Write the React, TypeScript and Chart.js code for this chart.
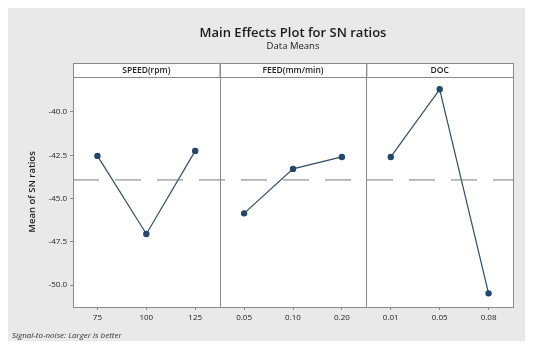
import React, { useEffect, useRef } from "react";
import { Chart, registerables } from "chart.js";

Chart.register(...registerables);

const FACTORS = ["SPEED(rpm)", "FEED(mm/min)", "DOC"];
const SPEED_LABELS = ["75", "100", "125"];
const SPEED_SN = [-42.54, -47.05, -42.25];
const FEED_LABELS = ["0.05", "0.10", "0.20"];
const FEED_SN = [-45.86, -43.29, -42.6];
const DOC_LABELS = ["0.01", "0.05", "0.08"];
const DOC_SN = [-42.6, -38.69, -50.48];
const Y_TICKS = [-50, -47.5, -45, -42.5, -40];
const Y_MIN = -51.27;
const Y_MAX = -37.98;

const TITLE = "Main Effects Plot for SN ratios";
const SUBTITLE = "Data Means";
const Y_TITLE = "Mean of SN ratios";
const FOOTNOTE = "Signal-to-noise: Larger is better";

const FONT = "'Open Sans', 'DejaVu Sans', sans-serif";
const LINE_COLOR = "#2f4d69";
const POINT_COLOR = "#23486b";
const FRAME = "#8a8a8a";

const ALL_LABELS = [...SPEED_LABELS, ...FEED_LABELS, ...DOC_LABELS];
const SERIES = [SPEED_SN, FEED_SN, DOC_SN];
const ALL_VALUES = [...SPEED_SN, ...FEED_SN, ...DOC_SN];
const MEAN = ALL_VALUES.reduce((a, b) => a + b, 0) / ALL_VALUES.length;

const framePlugin = {
  id: "framePlugin",
  beforeDraw(chart: any) {
    const { ctx, chartArea } = chart;
    const xs = chart.scales.x;
    ctx.save();
    ctx.fillStyle = "#ffffff";
    ctx.fillRect(chartArea.left, chartArea.top, chartArea.right - chartArea.left, chartArea.bottom - chartArea.top);
    const mid = (chartArea.left + chartArea.right) / 2;
    ctx.fillStyle = "#1a1a1a";
    ctx.textAlign = "center";
    ctx.textBaseline = "middle";
    ctx.font = `600 13px ${FONT}`;
    ctx.fillText(TITLE, mid, 25);
    ctx.font = `9.5px ${FONT}`;
    ctx.fillText(SUBTITLE, mid, 38);
    const stripTop = chartArea.top - 14;
    for (let i = 0; i < 3; i++) {
      const l = xs.getPixelForValue(i * 3);
      const r = xs.getPixelForValue(i * 3 + 3);
      ctx.fillStyle = "#ffffff";
      ctx.fillRect(l, stripTop, r - l, 14);
      ctx.strokeStyle = FRAME;
      ctx.lineWidth = 1;
      ctx.strokeRect(l + 0.5, stripTop + 0.5, r - l, 14);
      ctx.fillStyle = "#222";
      ctx.font = `600 8.5px ${FONT}`;
      ctx.fillText(FACTORS[i], (l + r) / 2, stripTop + 7.5);
    }
    ctx.save();
    ctx.translate(24, (chartArea.top + chartArea.bottom) / 2);
    ctx.rotate(-Math.PI / 2);
    ctx.font = `600 9.5px ${FONT}`;
    ctx.fillStyle = "#222";
    ctx.fillText(Y_TITLE, 0, 0);
    ctx.restore();
    ctx.textAlign = "left";
    ctx.font = `italic 8px ${FONT}`;
    ctx.fillStyle = "#333";
    ctx.fillText(FOOTNOTE, 4, 328);
    ctx.restore();
  },
  afterDraw(chart: any) {
    const { ctx, chartArea } = chart;
    const xs = chart.scales.x;
    ctx.save();
    ctx.strokeStyle = FRAME;
    ctx.lineWidth = 1;
    ctx.strokeRect(chartArea.left + 0.5, chartArea.top + 0.5, chartArea.right - chartArea.left, chartArea.bottom - chartArea.top);
    for (const v of [3, 6]) {
      const x = Math.round(xs.getPixelForValue(v)) + 0.5;
      ctx.beginPath();
      ctx.moveTo(x, chartArea.top - 14);
      ctx.lineTo(x, chartArea.bottom);
      ctx.stroke();
    }
    ctx.restore();
  },
};

export default function App() {
  const ref = useRef<HTMLCanvasElement>(null);
  useEffect(() => {
    if (!ref.current) return;
    const datasets: any[] = [
      {
        data: [
          { x: 0, y: MEAN },
          { x: 9, y: MEAN },
        ],
        borderColor: "#7a7a7a",
        borderWidth: 1,
        borderDash: [26, 16],
        pointRadius: 0,
        fill: false,
      },
    ];
    SERIES.forEach((s, i) => {
      datasets.push({
        data: s.map((v, j) => ({ x: i * 3 + j + 0.5, y: v })),
        borderColor: LINE_COLOR,
        borderWidth: 1.2,
        pointRadius: 2.6,
        pointBackgroundColor: POINT_COLOR,
        pointBorderColor: POINT_COLOR,
        pointStyle: "circle",
        fill: false,
      });
    });
    const chart = new Chart(ref.current, {
      type: "line",
      data: { datasets },
      plugins: [framePlugin],
      options: {
        animation: false,
        responsive: false,
        layout: { padding: { left: 0, top: 69, right: 12, bottom: 0 } },
        plugins: { legend: { display: false }, tooltip: { enabled: false } },
        scales: {
          x: {
            type: "linear",
            min: 0,
            max: 9,
            afterBuildTicks: (scale: any) => {
              scale.ticks = ALL_LABELS.map((_, i) => ({ value: i + 0.5 }));
            },
            afterFit: (scale: any) => {
              scale.height = 34;
            },
            ticks: {
              autoSkip: false,
              maxRotation: 0,
              color: "#222",
              font: { family: FONT, size: 8 },
              padding: 3,
              callback: (_v: any, i: number) => ALL_LABELS[i],
            },
            grid: { display: true, drawOnChartArea: false, drawTicks: true, tickLength: 3, color: FRAME },
            border: { display: false },
          },
          y: {
            type: "linear",
            min: Y_MIN,
            max: Y_MAX,
            afterBuildTicks: (scale: any) => {
              scale.ticks = Y_TICKS.map((v) => ({ value: v }));
            },
            afterFit: (scale: any) => {
              scale.width = 65;
            },
            ticks: {
              color: "#222",
              font: { family: FONT, size: 8 },
              padding: 3,
              callback: (v: any) => Number(v).toFixed(1),
            },
            grid: { display: true, drawOnChartArea: false, drawTicks: true, tickLength: 3, color: FRAME },
            border: { display: false },
          },
        },
      },
    });
    return () => chart.destroy();
  }, []);
  return (
    <div style={{ width: 517, height: 333, background: "#e9e9e9" }}>
      <canvas ref={ref} width={517} height={333} />
    </div>
  );
}
